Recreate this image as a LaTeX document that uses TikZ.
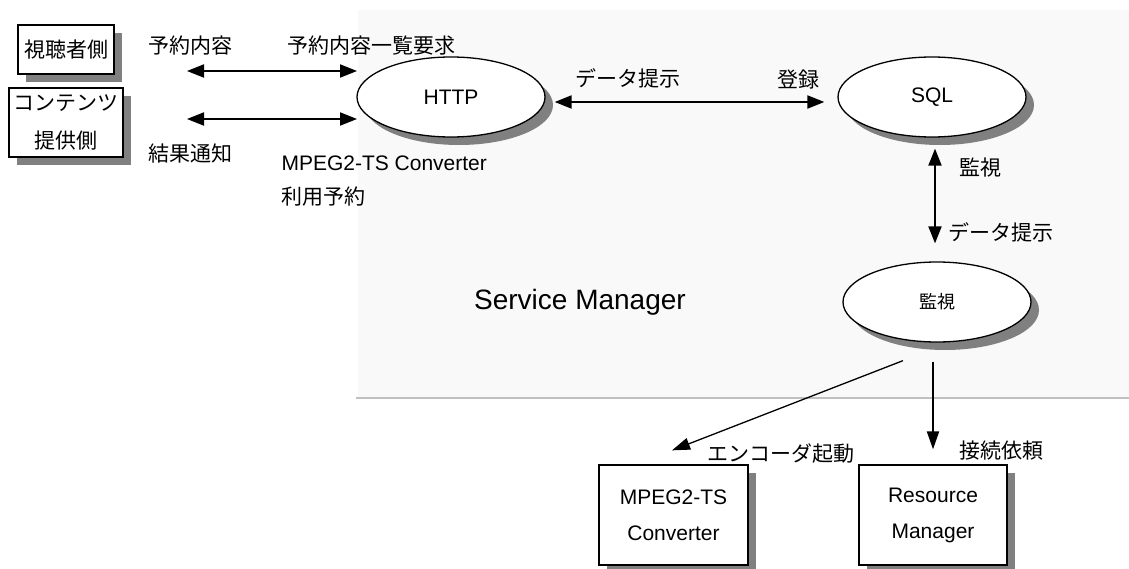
\documentclass[tikz,border=0pt]{standalone}
\usepackage{fontspec}
\setmainfont{Liberation Sans}
\newfontfamily\jpfont{Noto Sans CJK JP}
\usepackage{tikz}
\usetikzlibrary{arrows.meta,shapes.geometric,shadows}
\definecolor{smback}{HTML}{F9F9F9}
\definecolor{smline}{HTML}{C0C0C0}
\definecolor{shade}{HTML}{808080}
\tikzset{
  jp/.style     = {font=\jpfont\fontsize{21}{38}\selectfont},
  en/.style     = {font=\fontsize{21}{36}\selectfont},
  shd/.style    = {drop shadow={shadow xshift=8pt,shadow yshift=-8pt,fill=shade,opacity=1}},
  box/.style    = {draw,line width=1.3pt,fill=white,shd,align=center,inner sep=0pt},
  proc/.style   = {ellipse,draw,line width=1.3pt,fill=white,shd,minimum width=188pt,minimum height=80pt,inner sep=0pt},
  dblarr/.style = {{Triangle[length=17pt,width=13pt]}-{Triangle[length=17pt,width=13pt]},line width=2pt},
  onearr/.style = {-{Triangle[length=18pt,width=12pt]}}
}

\begin{document}
\begin{tikzpicture}[x=1pt,y=-1pt]
  \useasboundingbox (0,0) rectangle (1129,569);
  % Service Manager area
  \fill[smback] (358,10) rectangle (1129,398);
  \draw[smline,line width=2pt] (356,398) -- (1129,398);
  \node[font=\fontsize{28}{34}\selectfont] (sm) at (580,302) {Service Manager};

  \node[box,jp,minimum width=96pt,minimum height=49pt] (view) at (66,49.5) {視聴者側};
  \node[box,jp,minimum width=114pt,minimum height=69pt] (prov) at (66,122.5) {コンテンツ\\提供側};
  \node[proc,en] (http) at (451,97) {HTTP};
  \node[proc,en] (sql) at (932,97) {SQL};
  \node[proc,font=\jpfont\fontsize{18}{22}\selectfont] (mon) at (937,302) {監視};
  \node[box,en,minimum width=149pt,minimum height=100pt] (mpg) at (673.5,515) {MPEG2-TS\\Converter};
  \node[box,en,minimum width=148pt,minimum height=100pt] (rsc) at (933,515) {Resource\\Manager};

  % client side
  \coordinate (reqL) at (187,71);  \coordinate (reqR) at (357,71);
  \coordinate (resL) at (187,119); \coordinate (resR) at (357,119);
  \draw[dblarr] (reqL) -- (reqR);
  \draw[dblarr] (resL) -- (resR);
  \node[jp] (lreq)  at (190,46)  {予約内容};
  \node[jp] (llist) at (371,46)  {予約内容一覧要求};
  \node[jp] (lres)  at (190,154) {結果通知};
  \node[en,anchor=west] (luse1) at (278,163) {MPEG2-TS Converter};
  \node[jp,anchor=west] (luse2) at (278,197) {利用予約};

  % HTTP -- SQL -- monitor
  \draw[dblarr] ([xshift=9pt,yshift=-5pt]http.east) -- ([xshift=-13pt,yshift=-5pt]sql.west);
  \node[jp] (ldata1) at (628,78) {データ提示};
  \node[jp] (lreg)   at (798,80) {登録};
  \draw[dblarr] ([xshift=3pt,yshift=-11pt]sql.south) -- ([xshift=-2pt,yshift=18pt]mon.north);
  \node[jp] (lmon)  at (980,168) {監視};
  \node[jp,anchor=west] (ldata2) at (945,232) {データ提示};

  % monitor -> converter, resource manager
  \draw[onearr,line width=1.3pt] ([xshift=-34pt,yshift=-18pt]mon.south) -- ([xshift=-1.5pt,yshift=14pt]mpg.north);
  \draw[onearr,line width=2pt] ([yshift=-19pt]rsc.north |- mon.south) -- ([yshift=15pt]rsc.north);
  \node[jp] (lenc) at (781,454)  {エンコーダ起動};
  \node[jp] (lcon) at (1001,451) {接続依頼};
\end{tikzpicture}
\end{document}
